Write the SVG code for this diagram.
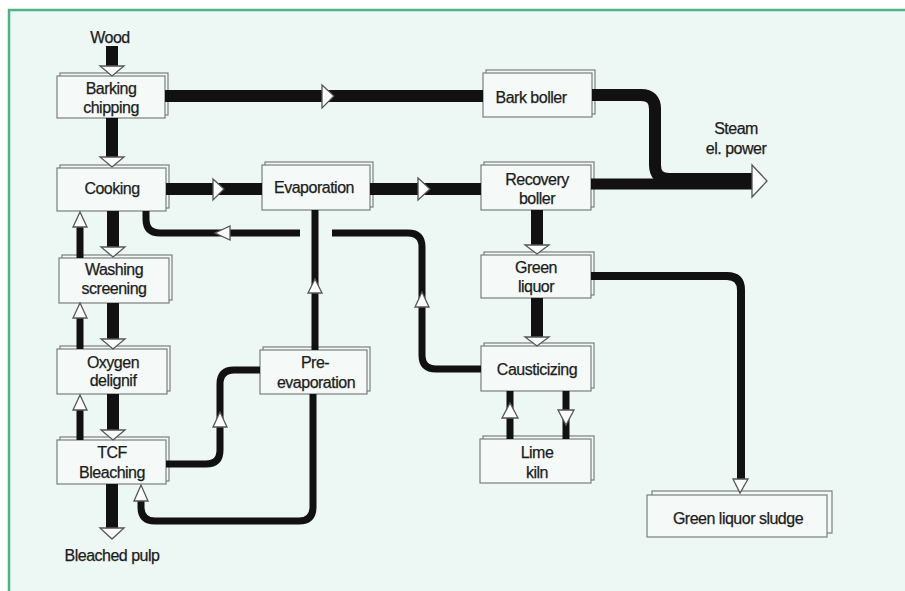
<svg xmlns="http://www.w3.org/2000/svg" width="905" height="591" viewBox="0 0 905 591">
<style>
.bg{fill:#edf7f3}
.bk{fill:#f3f9f7;stroke:#7a7f7d;stroke-width:1.2}
.fr{fill:#f5faf8;stroke:#7a7f7d;stroke-width:1.2}
text{font-family:"Liberation Sans",Arial,sans-serif;font-size:16px;fill:#1c1c1c;stroke:#1c1c1c;stroke-width:0.25;text-anchor:middle;letter-spacing:-0.5px}
.thick{fill:none;stroke:#111;stroke-width:12}
.thin{fill:none;stroke:#111;stroke-width:7}
.ah{fill:#fbfdfc;stroke:#555;stroke-width:1.3;stroke-linejoin:miter}
</style>
<rect width="905" height="591" fill="#ffffff"/>
<rect class="bg" x="9" y="10" width="896" height="581"/>
<path d="M9 591 V10 H905" fill="none" stroke="#4cb384" stroke-width="2.5"/>

<g id="nodes">
<g id="barking"><rect class="bk" x="60" y="73" width="108" height="42"/><rect class="fr" x="57" y="76" width="108" height="42"/><text x="111" y="93.5">Barking</text><text x="111" y="112.5">chipping</text></g>
<g id="cooking"><rect class="bk" x="60" y="165" width="109" height="43"/><rect class="fr" x="57" y="168" width="109" height="43"/><text x="112" y="193.5">Cooking</text></g>
<g id="washing"><rect class="bk" x="62" y="255" width="110" height="45"/><rect class="fr" x="59" y="258" width="110" height="45"/><text x="114" y="274.5">Washing</text><text x="114" y="293.5">screening</text></g>
<g id="oxygen"><rect class="bk" x="60" y="346" width="110" height="45"/><rect class="fr" x="57" y="349" width="110" height="45"/><text x="113" y="367.5">Oxygen</text><text x="113" y="385.5">delignif</text></g>
<g id="tcf"><rect class="bk" x="60" y="437" width="109" height="44"/><rect class="fr" x="57" y="440" width="109" height="44"/><text x="112" y="457.5">TCF</text><text x="112" y="477.5">Bleaching</text></g>
<g id="evaporation"><rect class="bk" x="265" y="162" width="108" height="45"/><rect class="fr" x="262" y="165" width="108" height="45"/><text x="314" y="192.5">Evaporation</text></g>
<g id="preevaporation"><rect class="bk" x="263" y="347" width="107" height="44"/><rect class="fr" x="260" y="350" width="107" height="44"/><text x="315" y="367.5">Pre-</text><text x="316" y="387.5">evaporation</text></g>
<g id="barkboiler"><rect class="bk" x="486" y="70" width="109" height="44"/><rect class="fr" x="483" y="73" width="109" height="44"/><text x="531" y="102.5">Bark boller</text></g>
<g id="recovery"><rect class="bk" x="484" y="162" width="110" height="45"/><rect class="fr" x="481" y="165" width="110" height="45"/><text x="537" y="184.5">Recovery</text><text x="537" y="203.5">boller</text></g>
<g id="greenliquor"><rect class="bk" x="484" y="252" width="110" height="43"/><rect class="fr" x="481" y="255" width="110" height="43"/><text x="536" y="272.5">Green</text><text x="536" y="291.5">liquor</text></g>
<g id="causticizing"><rect class="bk" x="484" y="343" width="110" height="45"/><rect class="fr" x="481" y="346" width="110" height="45"/><text x="537" y="374.5">Causticizing</text></g>
<g id="limekiln"><rect class="bk" x="483" y="436" width="111" height="44"/><rect class="fr" x="480" y="439" width="111" height="44"/><text x="537" y="457.5">Lime</text><text x="537" y="477.5">kiln</text></g>
<g id="sludge"><rect class="bk" x="652" y="491" width="180" height="42"/><rect class="fr" x="647" y="495" width="180" height="42"/><text x="738" y="523.5">Green liquor sludge</text></g>
</g>

<g id="labels">
<text x="110" y="42.5">Wood</text>
<text x="112" y="560.5">Bleached pulp</text>
<text x="736" y="133.5">Steam</text>
<text x="736" y="153.5">el. power</text>
</g>

<g id="connectors">
<path class="thick" d="M112 46 V68"/>
<path class="thick" d="M112 118 V158"/>
<path class="thick" d="M113 211 V248"/>
<path class="thick" d="M113 303 V340"/>
<path class="thick" d="M113 394 V431"/>
<path class="thick" d="M112 484 V529"/>
<path class="thick" d="M165 96 H483"/>
<path class="thick" d="M592 95 H641 Q655 95 655 109 V165 Q655 179 669 179 H753"/>
<path class="thick" style="stroke-width:11" d="M591 184 H753"/>
<path class="thick" d="M166 189 H262"/>
<path class="thick" d="M370 189 H481"/>
<path class="thick" d="M537 210 V246"/>
<path class="thick" d="M537 298 V338"/>
<path class="thin" d="M80 258 V226"/>
<path class="thin" d="M80 349 V317"/>
<path class="thin" d="M80 440 V409"/>
<path class="thin" d="M481 369 H436 Q422 369 422 355 V247 Q422 233 408 233 H332"/>
<path class="thin" d="M300 233 H160 Q146 233 146 219 V211"/>
<path class="thin" d="M315 350 V210"/>
<path class="thin" d="M166 464 H206 Q220 464 220 450 V384 Q220 370 234 370 H260"/>
<path class="thin" d="M313 394 V507 Q313 521 299 521 H155 Q141 521 141 507 V500"/>
<path class="thin" style="stroke-width:8" d="M591 276 H727 Q741 276 741 290 V480"/>
<path class="thin" d="M510 439 V391"/>
<path class="thin" d="M566 391 V439"/>
<polygon class="ah" points="100,66 124,66 112,76"/>
<polygon class="ah" points="100,157 124,157 112,167"/>
<polygon class="ah" points="101,247 125,247 113,257"/>
<polygon class="ah" points="101,339 125,339 113,349"/>
<polygon class="ah" points="101,430 125,430 113,440"/>
<polygon class="ah" points="100,528 124,528 112,539"/>
<polygon class="ah" points="525,245 549,245 537,254"/>
<polygon class="ah" points="525,337 549,337 537,346"/>
<polygon class="ah" points="322,85 322,108 334,96"/>
<polygon class="ah" points="213,179 213,200 224,189"/>
<polygon class="ah" points="418,178 418,200 430,189"/>
<polygon class="ah" points="752,165 752,197 767,181"/>
<polygon class="ah" points="73,227 87,227 80,212"/>
<polygon class="ah" points="73,318 87,318 80,303"/>
<polygon class="ah" points="73,410 87,410 80,395"/>
<polygon class="ah" points="415,307 429,307 422,292"/>
<polygon class="ah" points="230,226 230,240 215,233"/>
<polygon class="ah" points="308,293 322,293 315,279"/>
<polygon class="ah" points="213,427 227,427 220,412"/>
<polygon class="ah" points="134,501 148,501 141,485"/>
<polygon class="ah" points="733,479 748,479 740,493"/>
<polygon class="ah" points="502,418 518,418 510,403"/>
<polygon class="ah" points="558,410 574,410 566,425"/>
</g>
</svg>
